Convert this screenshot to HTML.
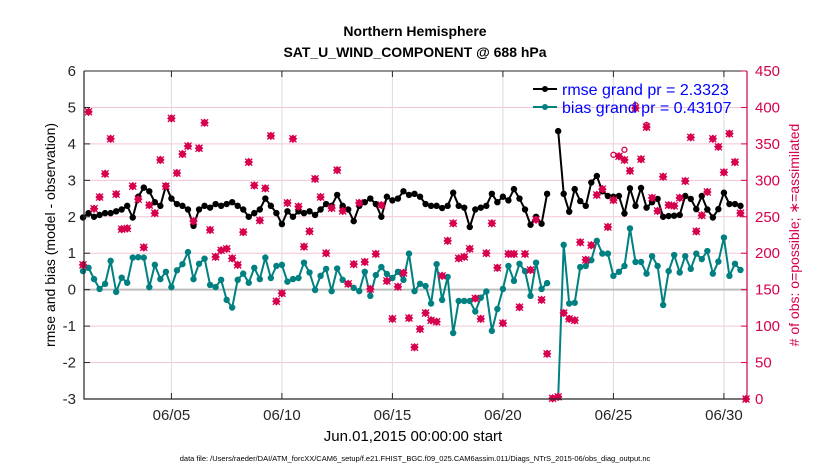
<!DOCTYPE html>
<html><head><meta charset="utf-8"><style>
body{margin:0;background:#fff;}
svg text{font-family:"Liberation Sans",Arial,sans-serif;}
</style></head><body>
<svg id="chart" width="830" height="470" viewBox="0 0 830 470" xmlns="http://www.w3.org/2000/svg">
<rect width="830" height="470" fill="#fff"/>
<g id="grid"></g>
<g id="series"></g>
<g id="axes"></g>
<text x="415" y="36" text-anchor="middle" font-size="14" font-weight="bold">Northern Hemisphere</text>
<text x="415" y="57" text-anchor="middle" font-size="14" font-weight="bold">SAT_U_WIND_COMPONENT @ 688 hPa</text>
<text transform="translate(55,235) rotate(-90)" text-anchor="middle" font-size="14">rmse and bias (model - observation)</text>
<text transform="translate(799,235) rotate(-90)" text-anchor="middle" font-size="14" fill="#d6004f"># of obs: o=possible; ∗=assimilated</text>
<text x="413" y="441" text-anchor="middle" font-size="15">Jun.01,2015 00:00:00 start</text>
<text x="415" y="461" text-anchor="middle" font-size="7.5">data file: /Users/raeder/DAI/ATM_forcXX/CAM6_setup/f.e21.FHIST_BGC.f09_025.CAM6assim.011/Diags_NTrS_2015-06/obs_diag_output.nc</text>
<g>
<line x1="533" y1="89" x2="557" y2="89" stroke="#000" stroke-width="2"/>
<circle cx="545" cy="89" r="3" fill="#000"/>
<text x="562" y="95" font-size="16" fill="#0000ff">rmse grand pr = 2.3323</text>
<line x1="533" y1="107" x2="557" y2="107" stroke="#008080" stroke-width="2"/>
<circle cx="545" cy="107" r="3" fill="#008080"/>
<text x="562" y="113" font-size="16" fill="#0000ff">bias grand pr = 0.43107</text>
</g>
</svg>
<script>
const dateTicks = ["06/05","06/10","06/15","06/20","06/25","06/30"];
const dateTickDays = [4,9,14,19,24,29];
const leftTicks = [-3,-2,-1,0,1,2,3,4,5,6];
const rightTicks = [0,50,100,150,200,250,300,350,400,450];
const timeStepDays = 0.25;
const rmse = [1.98,2.1,2.0,2.05,2.1,2.1,2.15,2.2,2.3,1.98,2.55,2.8,2.7,2.4,2.3,2.85,2.5,2.35,2.3,2.2,1.75,2.2,2.3,2.25,2.35,2.3,2.35,2.4,2.3,2.2,
2.0,2.1,2.2,2.5,2.3,2.1,1.8,2.15,2.0,2.15,2.1,2.15,2.05,2.2,2.35,2.3,2.6,2.3,2.2,1.88,2.3,2.4,2.5,2.35,2.0,2.55,2.45,2.5,2.7,
2.6,2.63,2.55,2.35,2.3,2.3,2.24,2.3,2.66,2.3,2.25,1.72,2.2,2.25,2.3,2.63,2.4,2.55,2.45,2.76,2.5,2.2,1.78,2.0,1.81,2.63,null,4.35,2.63,2.14,2.76,
2.43,2.3,2.94,3.12,2.7,2.57,2.55,2.57,2.09,2.78,2.3,2.79,2.25,2.4,2.49,2.0,2.02,2.03,2.05,2.57,2.49,2.21,2.57,2.2,1.98,2.21,2.66,2.35,2.35,2.3,null];
const bias = [0.51,0.6,0.29,0.02,0.16,0.79,-0.06,0.33,0.19,0.88,0.89,0.88,0.07,0.68,0.29,0.49,0.07,0.53,0.7,1.03,0.29,0.71,0.85,0.13,0.07,0.27,-0.28,-0.49,0.27,0.44,
0.19,0.6,0.29,0.88,0.32,0.65,0.68,0.22,0.29,0.32,0.74,0.47,-0.01,0.38,0.57,-0.04,0.58,0.27,0.16,0.05,-0.04,0.49,-0.17,0.4,0.62,0.43,0.32,0.49,0.27,0.99,-0.04,
0.16,0.1,-0.38,0.7,-0.28,0.35,-1.19,-0.31,-0.31,-0.31,-0.6,-0.22,-0.05,-1.13,-0.53,0.02,0.65,0.24,0.71,0.51,-0.17,0.74,0.02,0.18,null,-2.95,1.23,-0.38,-0.36,
0.62,0.65,0.81,1.34,0.99,0.99,0.38,0.49,0.65,1.68,0.76,0.76,0.44,0.92,0.65,-0.42,0.51,0.95,0.47,0.92,0.57,0.99,0.84,1.06,0.44,0.77,1.43,0.38,0.71,0.54,null];
const obsCount = [184,394,261,277,309,357,281,233,234,292,274,208,266,255,328,292,385,310,336,347,244,344,379,232,195,204,206,193,184,229,
325,293,245,289,361,134,145,269,357,264,209,230,302,277,200,262,314,258,158,185,269,188,151,199,266,162,110,154,173,111,71,
96,118,108,106,169,217,241,193,195,206,138,110,200,241,180,104,199,199,126,199,177,246,136,62,1,3,118,110,108,
215,191,211,280,288,236,273,333,328,313,399,329,373,276,258,305,266,265,276,299,359,230,252,284,357,346,311,364,325,255,0];
const possibleExtraIdx = [96,98,100,102];
const possibleExtraCount = [335,342,403,376];

const NS="http://www.w3.org/2000/svg";
const X0=84,X1=747,Y0=399,Y1=71;
const D0=0.045,D1=30.045;
function xs(d){return X0+(d-D0)/(D1-D0)*(X1-X0);}
function yl(v){return Y0-(v+3)/9*(Y0-Y1);}
function yr(v){return Y0-v/450*(Y0-Y1);}
function mk(tag,attrs,parent){const e=document.createElementNS(NS,tag);for(const k in attrs)e.setAttribute(k,attrs[k]);parent.appendChild(e);return e;}
const grid=document.getElementById('grid'),series=document.getElementById('series'),axes=document.getElementById('axes');

rightTicks.forEach(function(v){
  const l=mk('line',{x1:X0,x2:X1,y1:yr(v),y2:yr(v),stroke:'#f3c6d6','stroke-width':1},grid);
  
  
});
dateTickDays.forEach(function(d){
  const l=mk('line',{x1:xs(d),x2:xs(d),y1:Y1,y2:Y0,stroke:'#dcdcdc','stroke-width':1},grid);
  
  
});
const zl=mk('line',{x1:X0,x2:X1,y1:yl(0),y2:yl(0),stroke:'#bdbdbd','stroke-width':2},grid);



function tx(i){return xs(i*timeStepDays);}
function drawLine(vals,color,name){
  let segs=[],cur=[];
  vals.forEach(function(v,i){if(v===null){if(cur.length)segs.push(cur);cur=[];}else cur.push(tx(i).toFixed(1)+','+yl(Math.max(v,-3)).toFixed(1));});
  if(cur.length)segs.push(cur);
  segs.forEach(function(s){
    const p=mk('polyline',{points:s.join(' '),fill:'none',stroke:color,'stroke-width':2},series);
    
    
  });
  vals.forEach(function(v,i){if(v===null)return;
    const c=mk('circle',{cx:tx(i),cy:yl(Math.max(v,-3)),r:3.2,fill:color},series);
    
    
  });
}
drawLine(rmse,'#000','rmse');
drawLine(bias,'#008080','bias');

function star(x,y){
  const g=mk('g',{},series);
  const s=4.3;
  mk('polygon',{points:(x)+','+(y-s)+' '+(x+s)+','+y+' '+x+','+(y+s)+' '+(x-s)+','+y,fill:'#d6004f'},g);
  mk('path',{d:'M'+(x-3.5)+' '+(y-3.5)+'L'+(x+3.5)+' '+(y+3.5)+'M'+(x-3.5)+' '+(y+3.5)+'L'+(x+3.5)+' '+(y-3.5),stroke:'#d6004f','stroke-width':1.3},g);
  return g;
}
obsCount.forEach(function(v,i){if(v===null)return;
  const g=star(tx(i),yr(v));
  
  
});
possibleExtraIdx.forEach(function(idx,k){
  const c=mk('circle',{cx:tx(idx),cy:yr(possibleExtraCount[k]),r:2.5,fill:'none',stroke:'#d6004f','stroke-width':1.3},series);
  
  
});

const frame=mk('path',{d:'M'+X0+' '+Y1+'V'+Y0+'H'+X1,fill:'none',stroke:'#262626','stroke-width':1.2},axes);


const topl=mk('line',{x1:X0,x2:X1,y1:Y1,y2:Y1,stroke:'#262626','stroke-width':1},axes);


const ra=mk('line',{x1:X1,x2:X1,y1:Y1,y2:Y0,stroke:'#d6004f','stroke-width':1.2},axes);


leftTicks.forEach(function(v){
  mk('line',{x1:X0,x2:X0+6,y1:yl(v),y2:yl(v),stroke:'#262626'},axes);
  const t=mk('text',{x:X0-8,y:yl(v)+5,'text-anchor':'end','font-size':15,fill:'#262626'},axes);
  t.textContent=v;
  
  
});
rightTicks.forEach(function(v){
  mk('line',{x1:X1-6,x2:X1,y1:yr(v),y2:yr(v),stroke:'#d6004f'},axes);
  const t=mk('text',{x:X1+8,y:yr(v)+5,'font-size':15,fill:'#d6004f'},axes);
  t.textContent=v;
  
  
});
dateTickDays.forEach(function(d,i){
  mk('line',{x1:xs(d),x2:xs(d),y1:Y0,y2:Y0-6,stroke:'#262626'},axes);
  mk('line',{x1:xs(d),x2:xs(d),y1:Y1,y2:Y1+6,stroke:'#262626'},axes);
  const t=mk('text',{x:xs(d),y:Y0+21,'text-anchor':'middle','font-size':15,fill:'#262626'},axes);
  t.textContent=dateTicks[i];
  
  
});
</script>
</body></html>
